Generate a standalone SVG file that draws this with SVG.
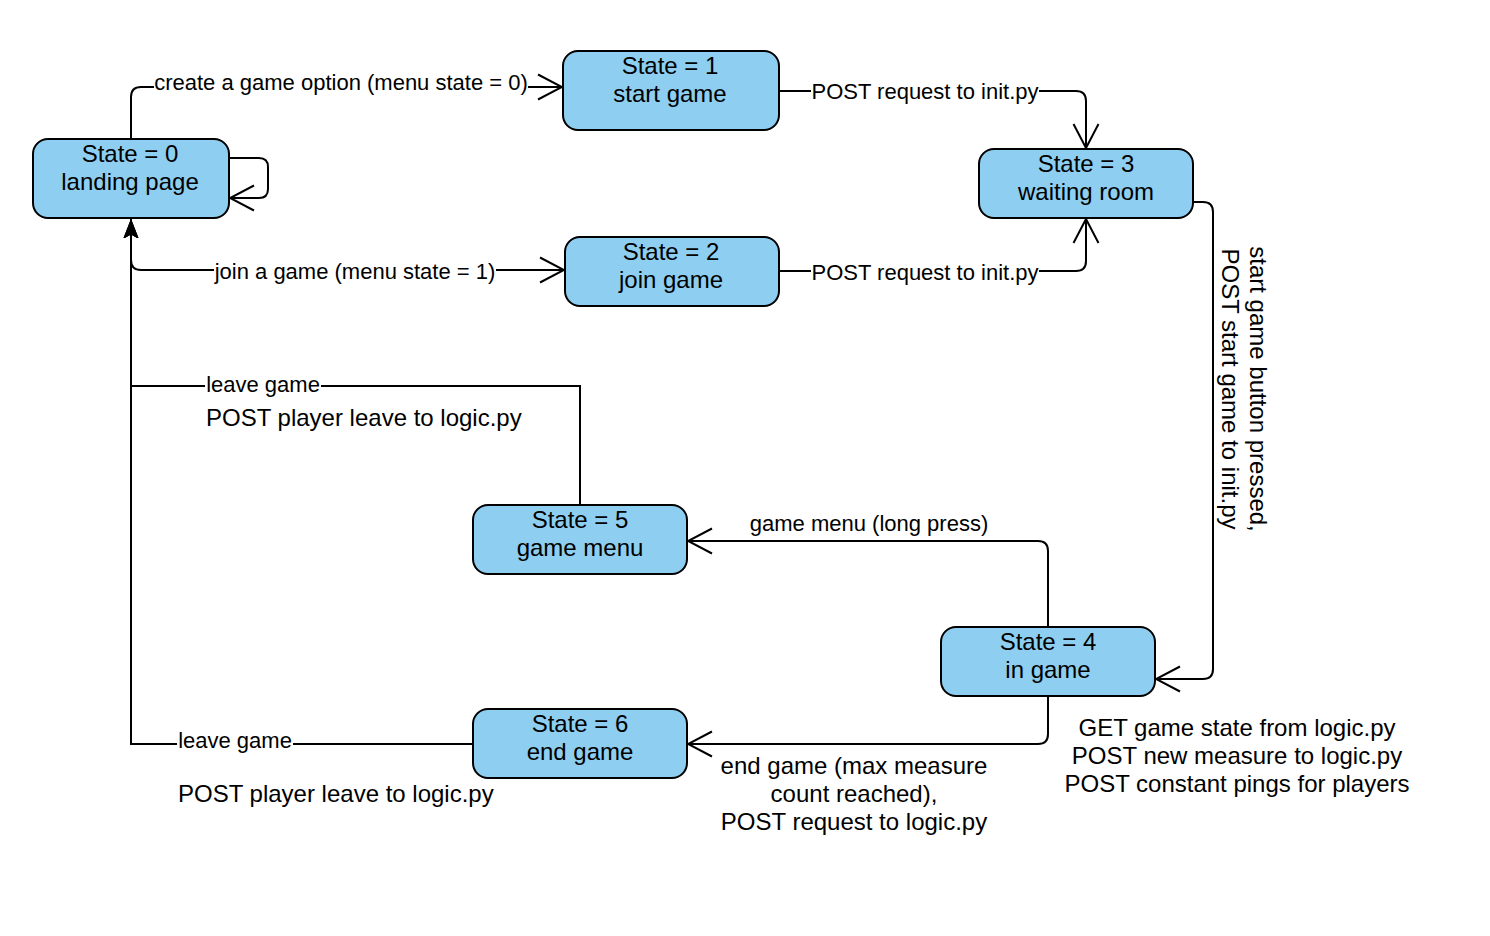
<svg xmlns="http://www.w3.org/2000/svg" width="1490" height="936" viewBox="0 0 1490 936">
<style>
.node rect{fill:#8ECEF0;stroke:#000;stroke-width:2}
.nt{font-family:"Liberation Sans",Arial,sans-serif;font-size:24px;fill:#000;text-anchor:middle}
.lt{font-family:"Liberation Sans",Arial,sans-serif;font-size:22px;fill:#000;text-anchor:middle}
.ft{font-family:"Liberation Sans",Arial,sans-serif;font-size:24px;fill:#000}
.e{fill:none;stroke:#000;stroke-width:2}
.bg{fill:#fff}
</style>
<defs>
<marker id="open" viewBox="0 0 27 28" refX="25" refY="14" markerWidth="27" markerHeight="28" markerUnits="userSpaceOnUse" orient="auto">
<path d="M1,1.5 L25,14 L1,26.5" fill="none" stroke="#000" stroke-width="2"/>
</marker>
<marker id="block" viewBox="0 0 19 16" refX="18" refY="8" markerWidth="19" markerHeight="16" markerUnits="userSpaceOnUse" orient="auto">
<path d="M18,8 L0,1 L4,8 L0,15 Z" fill="#000" stroke="#000" stroke-width="1"/>
</marker>
</defs>
<rect width="1490" height="936" fill="#fff"/>
<g id="connectors">
<path class="e" d="M131,139 V97 Q131,87 141,87 H562" marker-end="url(#open)"/>
<path class="e" d="M131,219 V260 Q131,270 141,270 H564" marker-end="url(#open)"/>
<path class="e" d="M229,158 H259 Q268,158 268,167 V189 Q268,198 259,198 H230" marker-end="url(#open)"/>
<path class="e" d="M779,91 H1076 Q1086,91 1086,101 V148" marker-end="url(#open)"/>
<path class="e" d="M779,271 H1076 Q1086,271 1086,261 V219" marker-end="url(#open)"/>
<path class="e" d="M1193,202 H1203 Q1213,202 1213,212 V669 Q1213,679 1203,679 H1156" marker-end="url(#open)"/>
<path class="e" d="M1048,627 V551 Q1048,541 1038,541 H688" marker-end="url(#open)"/>
<path class="e" d="M1048,696 V734 Q1048,744 1038,744 H688" marker-end="url(#open)"/>
<path class="e" d="M580,505 V386 H131 V220" marker-end="url(#block)"/>
<path class="e" d="M473,744 H131 V220" marker-end="url(#block)"/>
<rect class="bg" x="154" y="71" width="374" height="26"/>
<text class="lt" x="341" y="90">create a game option (menu state = 0)</text>
<rect class="bg" x="214" y="259" width="282" height="26"/>
<text class="lt" x="355" y="279">join a game (menu state = 1)</text>
<rect class="bg" x="811" y="80" width="228" height="26"/>
<text class="lt" x="925" y="99">POST request to init.py</text>
<rect class="bg" x="811" y="260" width="228" height="26"/>
<text class="lt" x="925" y="280">POST request to init.py</text>
<rect class="bg" x="205" y="373" width="116" height="26"/>
<text class="lt" x="263" y="392">leave game</text>
<rect class="bg" x="177" y="729" width="116" height="26"/>
<text class="lt" x="235" y="748">leave game</text>
<text class="lt" x="869" y="531">game menu (long press)</text>
<g transform="translate(1245,389) rotate(90)">
<text class="nt" x="0" y="-5">start game button pressed,</text>
<text class="nt" x="0" y="23">POST start game to init.py</text>
</g>
<text class="ft" x="206" y="426">POST player leave to logic.py</text>
<text class="ft" x="178" y="802">POST player leave to logic.py</text>
<text class="nt" x="854" y="774">end game (max measure</text>
<text class="nt" x="854" y="802">count reached),</text>
<text class="nt" x="854" y="830">POST request to logic.py</text>
<text class="nt" x="1237" y="736">GET game state from logic.py</text>
<text class="nt" x="1237" y="764">POST new measure to logic.py</text>
<text class="nt" x="1237" y="792">POST constant pings for players</text>
</g>
<g id="node0" class="node"><rect x="33" y="139" width="196" height="79" rx="15"/><text class="nt" x="130" y="162">State = 0</text><text class="nt" x="130" y="190">landing page</text></g>
<g id="node1" class="node"><rect x="563" y="51" width="216" height="79" rx="15"/><text class="nt" x="670" y="74">State = 1</text><text class="nt" x="670" y="102">start game</text></g>
<g id="node2" class="node"><rect x="565" y="237" width="214" height="69" rx="15"/><text class="nt" x="671" y="260">State = 2</text><text class="nt" x="671" y="288">join game</text></g>
<g id="node3" class="node"><rect x="979" y="149" width="214" height="69" rx="15"/><text class="nt" x="1086" y="172">State = 3</text><text class="nt" x="1086" y="200">waiting room</text></g>
<g id="node4" class="node"><rect x="941" y="627" width="214" height="69" rx="15"/><text class="nt" x="1048" y="650">State = 4</text><text class="nt" x="1048" y="678">in game</text></g>
<g id="node5" class="node"><rect x="473" y="505" width="214" height="69" rx="15"/><text class="nt" x="580" y="528">State = 5</text><text class="nt" x="580" y="556">game menu</text></g>
<g id="node6" class="node"><rect x="473" y="709" width="214" height="69" rx="15"/><text class="nt" x="580" y="732">State = 6</text><text class="nt" x="580" y="760">end game</text></g>
</svg>
